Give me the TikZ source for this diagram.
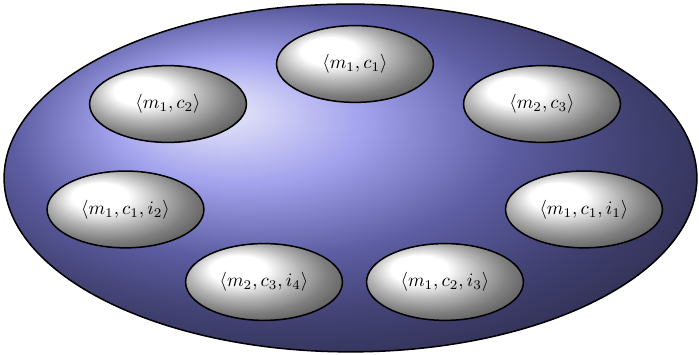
\documentclass[tikz,border=0pt]{standalone}
\usepackage{amsmath, amssymb}
\usepackage{xcolor}
\usepackage{tikz}
\usetikzlibrary{shapes.geometric}
\definecolor{setblue}{RGB}{132,132,232}

\begin{document}
\begin{tikzpicture}[every node/.style={inner sep=2pt},
  universe/.style={ellipse, draw, thick, ball color=setblue,
    minimum width=12.81cm, minimum height=6.43cm},
  tuple/.style={ellipse, draw, thick, ball color=white,
    minimum width=2.9cm, minimum height=1.42cm}]
\useasboundingbox (-6.481,-3.273) rectangle (6.444,3.291);
\node[universe] (U) at (0,0) {};
\node[tuple] (mc1) at (0.083,2.108) {$\langle m_1, c_1\rangle$};
\node[tuple] (mc2) at (-3.374,1.368) {$\langle m_1, c_2\rangle$};
\node[tuple] (mc3) at (3.541,1.368) {$\langle m_2, c_3\rangle$};
\node[tuple] (mci2) at (-4.160,-0.582) {$\langle m_1, c_1, i_2\rangle$};
\node[tuple] (mci1) at (4.317,-0.582) {$\langle m_1, c_1, i_1\rangle$};
\node[tuple] (mci4) at (-1.599,-1.923) {$\langle m_2, c_3, i_4\rangle$};
\node[tuple] (mci3) at (1.747,-1.923) {$\langle m_1, c_2, i_3\rangle$};
\end{tikzpicture}
\end{document}
